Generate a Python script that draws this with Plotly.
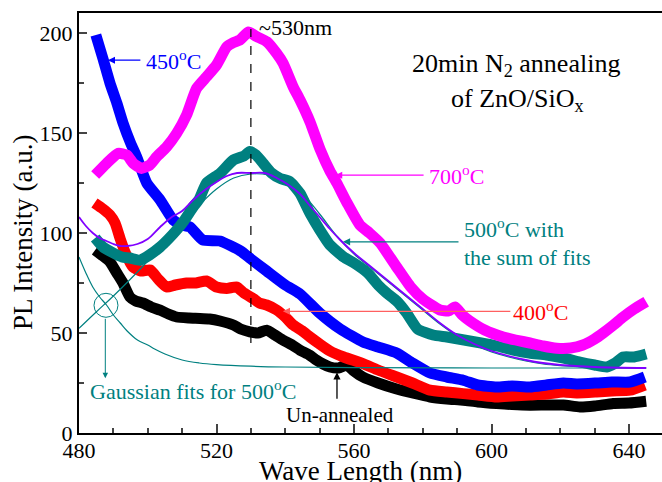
import plotly.graph_objects as go

# ---- data ----
x_700 = [484.7, 488, 491.4, 493.9, 495.8, 498.2, 500.6, 502.6, 505.5, 508.4, 511.3, 514.2, 517.1, 520, 523, 524.9, 526.8, 529.3, 531.7, 534.6, 537.5, 539.4, 542.3, 544.3, 547.2, 550.1, 553, 555, 558, 561.7, 564.5, 567.6, 572.4, 576.5, 580, 585, 587.5, 589.4, 591.5, 593.7, 598, 603.4, 607, 611.2, 615, 619, 623, 626.6, 630, 632.5, 635.5, 638.3, 641.5, 645]
y_700 = [129, 134.8, 139.8, 139, 134.8, 132.3, 134, 138.1, 143.1, 149.8, 159, 172.3, 178.1, 184, 193.1, 195.2, 196.5, 200.5, 198.2, 195.7, 189.8, 184.8, 173.1, 166.5, 155.6, 142, 131, 125, 115, 104, 100, 95, 83, 73, 67, 61.5, 61, 63, 59, 56, 51.5, 48, 46.5, 45, 43.5, 42.4, 42.5, 44, 47, 50, 54, 58, 62, 65.6]

x_450 = [484.9, 487, 489, 491, 492.8, 495, 496.8, 499.7, 503.6, 507.4, 510, 512.3, 516, 521, 527, 530, 534.6, 540, 544.3, 550, 556, 562.6, 567, 572.4, 577, 582.1, 587, 591.8, 596, 601.5, 606, 611.2, 616, 620.9, 625, 630.6, 635, 640.3, 644.6]
y_450 = [199, 187, 175, 165, 155, 145, 138, 125, 116.5, 106.5, 104, 103, 96.5, 96, 91, 87, 81, 74, 69.5, 60, 52, 45.5, 43, 40, 35, 30, 28, 26.4, 24, 23, 23.5, 23, 24, 25, 24.5, 25, 25.5, 25.5, 28]

x_500 = [484.7, 487, 490, 492.5, 494.8, 497.7, 500.5, 503.6, 506, 508.4, 510.5, 513.2, 515, 517.1, 521, 524.9, 528, 529.7, 531.5, 533.6, 536, 538.5, 541.4, 544.3, 547.2, 550.1, 553, 557, 560, 564, 567, 569.5, 572.4, 575.3, 578.5, 583, 587, 592, 597, 601.5, 606.3, 611, 616, 621, 625.7, 630, 633.5, 636, 638.3, 641.5, 645]
y_500 = [97.5, 93, 90, 88, 87.5, 86.4, 89, 93, 97, 101.5, 106, 113, 117, 125, 129.8, 136.5, 138.5, 140.7, 139, 134.8, 130, 127.3, 125.6, 119.8, 109.8, 101.4, 94, 88, 85, 80, 74, 70, 66, 60, 52, 49, 48, 46.5, 45, 43.5, 41.5, 40, 39, 37.5, 35.5, 34, 33, 35, 38, 38, 39.5]

x_400 = [484.5, 487, 489, 490.5, 492, 493.5, 495.7, 498, 500.7, 503, 505.5, 508, 511.3, 514, 517.1, 520, 523, 525.9, 528, 530.7, 532.5, 534.6, 537.5, 540, 542.3, 545, 547.2, 550, 553, 557, 562.6, 567, 572.4, 577, 582.1, 587, 591.8, 596, 601.5, 606, 611.2, 616, 620.9, 625, 630.6, 635, 640.3, 644.6]
y_400 = [115, 112, 109, 105, 97, 90, 83, 81, 81.5, 77, 73, 74, 75, 75, 76, 73, 72.3, 73, 70, 67.2, 65, 64, 61.5, 58, 54, 51, 48, 44.5, 41, 38, 34.7, 31.5, 28, 25, 21.4, 20.5, 19.7, 19, 18, 18.5, 19, 19.5, 20.5, 20, 20.5, 21, 21.4, 24]

x_un = [484.7, 487, 489, 491, 492.8, 494.8, 496.5, 498.6, 501, 503.6, 506, 508.4, 512, 515.2, 518, 521, 524.9, 527, 529.7, 532, 534.6, 537, 539.4, 542, 544.3, 547, 549.1, 551, 553, 555.5, 557.9, 560, 562.6, 567, 572.4, 577, 582.1, 587, 591.8, 596, 601.5, 606, 611.2, 616, 620.9, 625.7, 630, 635.4, 640, 645]
y_un = [91.5, 88.5, 85.6, 80, 75, 68, 66, 65, 63, 61.4, 59.5, 58, 57.5, 57.3, 57, 56, 54, 52, 50.6, 50, 51.4, 49, 46.4, 44, 41.4, 39, 36.4, 34.5, 33, 32.5, 34, 31, 28, 25, 22, 20, 18, 17, 16.4, 15.5, 14.7, 14.2, 13.9, 14, 14, 13, 13.5, 14.8, 15, 15.9]

x_g1 = [480, 482, 484, 486, 488, 490, 492, 494, 497, 500, 502, 505, 510, 515, 520, 530, 540, 560, 600, 645]
y_g1 = [88, 80, 73, 68, 64, 59, 55, 51, 46.5, 44, 42, 39.5, 36.5, 35, 34.2, 33.4, 33, 32.7, 32.5, 32.5]

x_g2 = [480, 485, 490, 495, 500, 505, 510, 515, 520, 525, 530, 535, 540, 545, 550, 555, 560, 565, 570, 575, 580, 585, 590, 595, 600, 605, 610, 615, 620, 630, 645]
y_g2 = [52.3, 60.5, 68.5, 77, 86, 96, 105, 114, 122, 127.5, 129.5, 129, 125.5, 119.5, 109.5, 98.5, 89.5, 82.5, 75.5, 68.5, 61.5, 54.5, 48.5, 44, 40.5, 38, 36, 34.5, 33.7, 32.8, 32.5]

x_sum = [480, 482, 484, 486, 488, 490, 492, 494, 497, 500, 503.6, 507, 510, 513.2, 517, 520, 523, 526, 530, 534, 537.5, 541, 544.3, 547, 550, 553, 556, 560, 565, 570, 575, 580, 585, 590, 595, 600, 605, 610, 615, 620, 630, 645]
y_sum = [108, 103.5, 100, 97.5, 96, 94.5, 93.5, 93.5, 94.5, 97, 103, 108, 111, 116.5, 122, 125.5, 128.5, 130, 130, 130, 127.5, 124, 119.5, 114, 108, 102, 96.5, 90, 83, 76, 69, 62, 55, 49, 44.5, 41, 38.5, 36.5, 35, 34, 33, 32.5]

x_ticks = [480, 520, 560, 600, 640]
y_ticks = [0, 50, 100, 150, 200]

FONT = "Liberation Serif"
TEAL = "#008080"
C700 = "#ff00ff"
C450 = "#0000ff"
C400 = "#ff0000"
CUN = "#000000"
CSUM = "#8000ff"

fig = go.Figure()

thick = 11
for xs, ys, col in [(x_un, y_un, CUN), (x_400, y_400, C400), (x_450, y_450, C450),
                    (x_500, y_500, TEAL), (x_700, y_700, C700)]:
    fig.add_trace(go.Scatter(x=xs, y=ys, mode="lines",
                             line=dict(color=col, width=thick, shape="spline", smoothing=0.5),
                             showlegend=False, hoverinfo="skip"))

fig.add_trace(go.Scatter(x=x_g1, y=y_g1, mode="lines", line=dict(color=TEAL, width=1.2, shape="spline"),
                         showlegend=False))
fig.add_trace(go.Scatter(x=x_g2, y=y_g2, mode="lines", line=dict(color=TEAL, width=1.2, shape="spline"),
                         showlegend=False))
fig.add_trace(go.Scatter(x=x_sum, y=y_sum, mode="lines", line=dict(color=CSUM, width=1.8, shape="spline"),
                         showlegend=False))

# dashed vertical line at ~530 nm
fig.add_shape(type="line", x0=530, x1=530, y0=45, y1=202, xref="x", yref="y",
              line=dict(color="black", width=1.2, dash="dash"))
# circle marking the gaussian fits
fig.add_shape(type="circle", x0=484.36, x1=491.34, y0=57.85, y1=69.85, xref="x", yref="y",
              line=dict(color=TEAL, width=1))

def label(x, y, text, color, size=22, xanchor="center"):
    fig.add_annotation(x=x, y=y, xref="x", yref="y", text=text, showarrow=False,
                       font=dict(family=FONT, size=size, color=color), xanchor=xanchor, yanchor="middle")

def arrow(x, y, ax, ay, color, width=1.3):
    fig.add_annotation(x=x, y=y, xref="x", yref="y", ax=ax, ay=ay, text="", showarrow=True,
                       arrowhead=2, arrowsize=1.1, arrowwidth=width, arrowcolor=color)

arrow(488.4, 186.4, 34, 0, C450)
label(507.5, 186.4, "450<sup>o</sup>C", C450)

arrow(554.5, 128.9, 90, 0, C700)
label(589.8, 128.9, "700<sup>o</sup>C", C700)

arrow(556.8, 95.6, 117, 0, TEAL)
label(591.4, 102.3, "500<sup>o</sup>C with", TEAL, xanchor="left")
label(591.4, 87.8, "the sum of fits", TEAL, xanchor="left")

arrow(539.3, 60.85, 229, 0, "#ff6060")
label(614.3, 60.85, "400<sup>o</sup>C", C400)

arrow(555.05, 30.35, 0, 28, CUN)
label(555.9, 8.85, "Un-annealed", CUN, size=21)

arrow(487.65, 27.35, 0, -61, TEAL, width=1)
label(513.2, 21.35, "Gaussian fits for 500<sup>o</sup>C", TEAL)

label(531.8, 202.6, "~530nm", "black", size=22, xanchor="left")
label(607.0, 183.85, "20min N<sub>2</sub> annealing", "black", size=26)
label(607.6, 166.35, "of ZnO/SiO<sub>x</sub>", "black", size=26)

# axis titles
fig.add_annotation(x=562, y=0, xref="x", yref="paper", yshift=-38, text="Wave Length (nm)",
                   showarrow=False, font=dict(family=FONT, size=27, color="black"), yanchor="middle")
fig.add_annotation(x=0, y=100, xref="paper", yref="y", xshift=-56, text="PL Intensity (a.u.)",
                   textangle=-90, showarrow=False, font=dict(family=FONT, size=27, color="black"),
                   xanchor="center")

fig.update_layout(
    width=662, height=482,
    margin=dict(l=79, r=0, t=13, b=49),
    paper_bgcolor="white", plot_bgcolor="white",
    font=dict(family=FONT, size=22, color="black"),
    xaxis=dict(range=[480, 649.6], tickvals=x_ticks, ticks="inside", ticklen=9, tickwidth=2,
               showline=True, linewidth=2, linecolor="black", mirror=True, showgrid=False,
               zeroline=False, tickfont=dict(family=FONT, size=22, color="black"),
               ticklabelstandoff=-3,
               minor=dict(dtick=10, tick0=480, ticks="inside", ticklen=5, tickwidth=2, showgrid=False)),
    yaxis=dict(range=[0, 210], tickvals=y_ticks, ticks="inside", ticklen=8, tickwidth=2,
               showline=True, linewidth=2, linecolor="black", showgrid=False, zeroline=False,
               tickfont=dict(family=FONT, size=22, color="black"),
               minor=dict(dtick=25, tick0=0, ticks="inside", ticklen=5, tickwidth=2, showgrid=False)),
)

fig.write_html("out.html")
